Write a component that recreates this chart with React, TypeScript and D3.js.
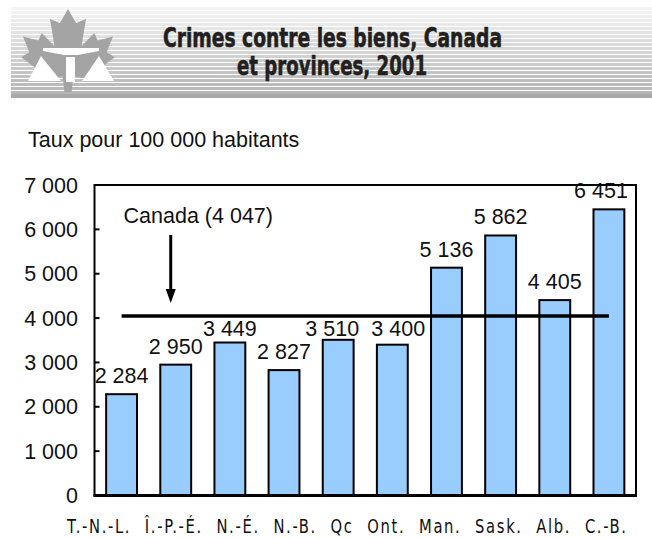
import React from "react";
import * as d3 from "d3";

const categories = ["T.-N.-L.", "Î.-P.-É.", "N.-É.", "N.-B.", "Qc", "Ont.", "Man.", "Sask.", "Alb.", "C.-B."];
const rates = [2284, 2950, 3449, 2827, 3510, 3400, 5136, 5862, 4405, 6451];
const canadaRate = 4047;
const yTicks = [0, 1000, 2000, 3000, 4000, 5000, 6000, 7000];
const titleLines = ["Crimes contre les biens, Canada", "et provinces, 2001"];
const yAxisTitle = "Taux pour 100 000 habitants";
const canadaLabel = "Canada (4 047)";

const W = 652;
const H = 538;
const plot = { left: 94.5, right: 636, top: 185, bottom: 495.5 };

const fr = d3.formatLocale({ decimal: ",", thousands: " ", grouping: [3], currency: ["", " $"] });
const fmt = fr.format(",d");

const SANS = "'Liberation Sans', Arial, Helvetica, sans-serif";
const NARROW = "'Liberation Sans Narrow', 'Arial Narrow', 'DejaVu Sans Condensed', sans-serif";
const FS = 21.5;

// maple leaf outline in a local unit box (x: -50..50, y: 0..100)
const leafPts: [number, number][] = [
  [0, 0], [9, 17], [20, 12], [15, 45], [29, 29], [33, 38], [50, 33], [43, 52], [52, 58],
  [31, 75], [35, 86], [6, 81], [4, 100], [-4, 100], [-6, 81], [-35, 86], [-31, 75],
  [-52, 58], [-43, 52], [-50, 33], [-33, 38], [-29, 29], [-15, 45], [-20, 12], [-9, 17],
];

export default function App() {
  const x = d3.scaleBand<string>().domain(categories).range([plot.left, plot.right]).paddingInner(0.43).paddingOuter(0.215);
  const y = d3.scaleLinear().domain([0, 7000]).range([plot.bottom, plot.top]);
  const bw = x.bandwidth();
  const cx = (c: string) => (x(c) as number) + bw / 2;

  // header stripes
  const stripeTop = 7;
  const stripeBottom = 93;
  const stripes = d3.range(stripeTop, stripeBottom, 4);
  const shade = d3.scaleLinear<string>().domain([stripeTop, stripeBottom]).range(["#f5f5f5", "#b4b4b4"]);

  const leafPath = d3.line()(leafPts) + "Z";
  const yLine = y(canadaRate);
  const arrowX = cx(categories[1]) - 5;

  const labelStart = plot.left - 27.5;
  const labelLen = 559;
  const squeeze = 0.82;

  const capH = FS * 0.72;
  const labelHalfW = 27;
  const minGap = 66;
  const valueLabels = categories.map((c, i) => {
    let by = y(rates[i]) - 11;
    if (by - capH < yLine + 3 && by > yLine - 3) by = yLine + 20.5;
    let lx = cx(c);
    if (lx + labelHalfW > plot.right - 8) lx = plot.right - 8 - labelHalfW;
    return { c, lx, by, text: fmt(rates[i]) };
  });
  for (let i = 1; i < valueLabels.length; i++) {
    const a = valueLabels[i - 1];
    const b = valueLabels[i];
    if (Math.abs(a.by - b.by) < 1 && b.lx - a.lx < minGap) {
      const d = (minGap - (b.lx - a.lx)) / 2;
      a.lx -= d;
      b.lx += d;
    }
  }

  return (
    <svg width={W} height={H} style={{ position: "absolute", left: 0, top: 0, background: "#fff" }}>
      {/* header */}
      <g>
        {stripes.map((s) => (
          <rect key={s} x={11} y={s} width={W - 11} height={3} fill={shade(s)} />
        ))}
        <rect x={11} y={94} width={W - 11} height={4} fill="#a8a8a8" />
        <g transform="translate(68,9) scale(0.9,0.83)">
          <path d={leafPath} fill="#a4a4a4" />
        </g>
        {/* scales of justice */}
        <path d="M43,48 L99,48 L99,51 L78,55 L64,55 L43,51 Z" fill="#fff" />
        <rect x={66} y={57} width={9} height={25} fill="#fff" />
        <path d="M41,56 L28,81 L61,81 Z" fill="#fff" />
        <path d="M99,56 L82,81 L114,81 Z" fill="#fff" />
        <text x={332.5} y={46.5} textAnchor="middle" fontFamily={NARROW} fontWeight="bold" fontSize={26} fill="#231f20" stroke="#231f20" strokeWidth={0.6} textLength={339} lengthAdjust="spacingAndGlyphs">
          {titleLines[0]}
        </text>
        <text x={332} y={75} textAnchor="middle" fontFamily={NARROW} fontWeight="bold" fontSize={26} fill="#231f20" stroke="#231f20" strokeWidth={0.6} textLength={190} lengthAdjust="spacingAndGlyphs">
          {titleLines[1]}
        </text>
      </g>

      <text x={28} y={147} fontFamily={SANS} fontSize={FS} fill="#111">{yAxisTitle}</text>

      {/* bars */}
      {categories.map((c, i) => (
        <rect key={c} x={x(c)} y={y(rates[i])} width={bw} height={y(0) - y(rates[i])} fill="#99ccff" stroke="#000" strokeWidth={2} />
      ))}
      {valueLabels.map((v) => (
        <text key={v.c} x={v.lx} y={v.by} textAnchor="middle" fontFamily={SANS} fontSize={FS} fill="#111">
          {v.text}
        </text>
      ))}

      {/* frame */}
      <rect x={plot.left} y={plot.top} width={plot.right - plot.left} height={plot.bottom - plot.top} fill="none" stroke="#000" strokeWidth={2} />
      <line x1={plot.left - 1} x2={plot.right + 1} y1={plot.bottom} y2={plot.bottom} stroke="#000" strokeWidth={3} />

      {/* y ticks */}
      {yTicks.map((t) => (
        <g key={t}>
          <line x1={plot.left} x2={plot.left + 5} y1={y(t)} y2={y(t)} stroke="#000" strokeWidth={2} />
          <text x={78} y={y(t) + 7.5} textAnchor="end" fontFamily={SANS} fontSize={FS} fill="#111">{fmt(t)}</text>
        </g>
      ))}

      {/* Canada average line */}
      <line x1={cx(categories[0])} x2={cx(categories[categories.length - 1])} y1={yLine} y2={yLine} stroke="#000" strokeWidth={3.5} />
      <line x1={arrowX} x2={arrowX} y1={yLine - 81} y2={yLine - 24} stroke="#000" strokeWidth={3} />
      <path d={`M${arrowX - 5},${yLine - 27} L${arrowX + 5},${yLine - 27} L${arrowX},${yLine - 13} Z`} fill="#000" />
      <text x={cx(categories[0]) + 2} y={yLine - 93} fontFamily={SANS} fontSize={FS} fill="#111">{canadaLabel}</text>

      {/* x labels */}
      <g transform={`translate(${labelStart},533) scale(${squeeze},1)`}>
        <text x={0} y={0} fontFamily={NARROW} fontSize={20} fill="#111" wordSpacing={9} textLength={labelLen / squeeze} lengthAdjust="spacing">
          {categories.join(" ")}
        </text>
      </g>
    </svg>
  );
}
